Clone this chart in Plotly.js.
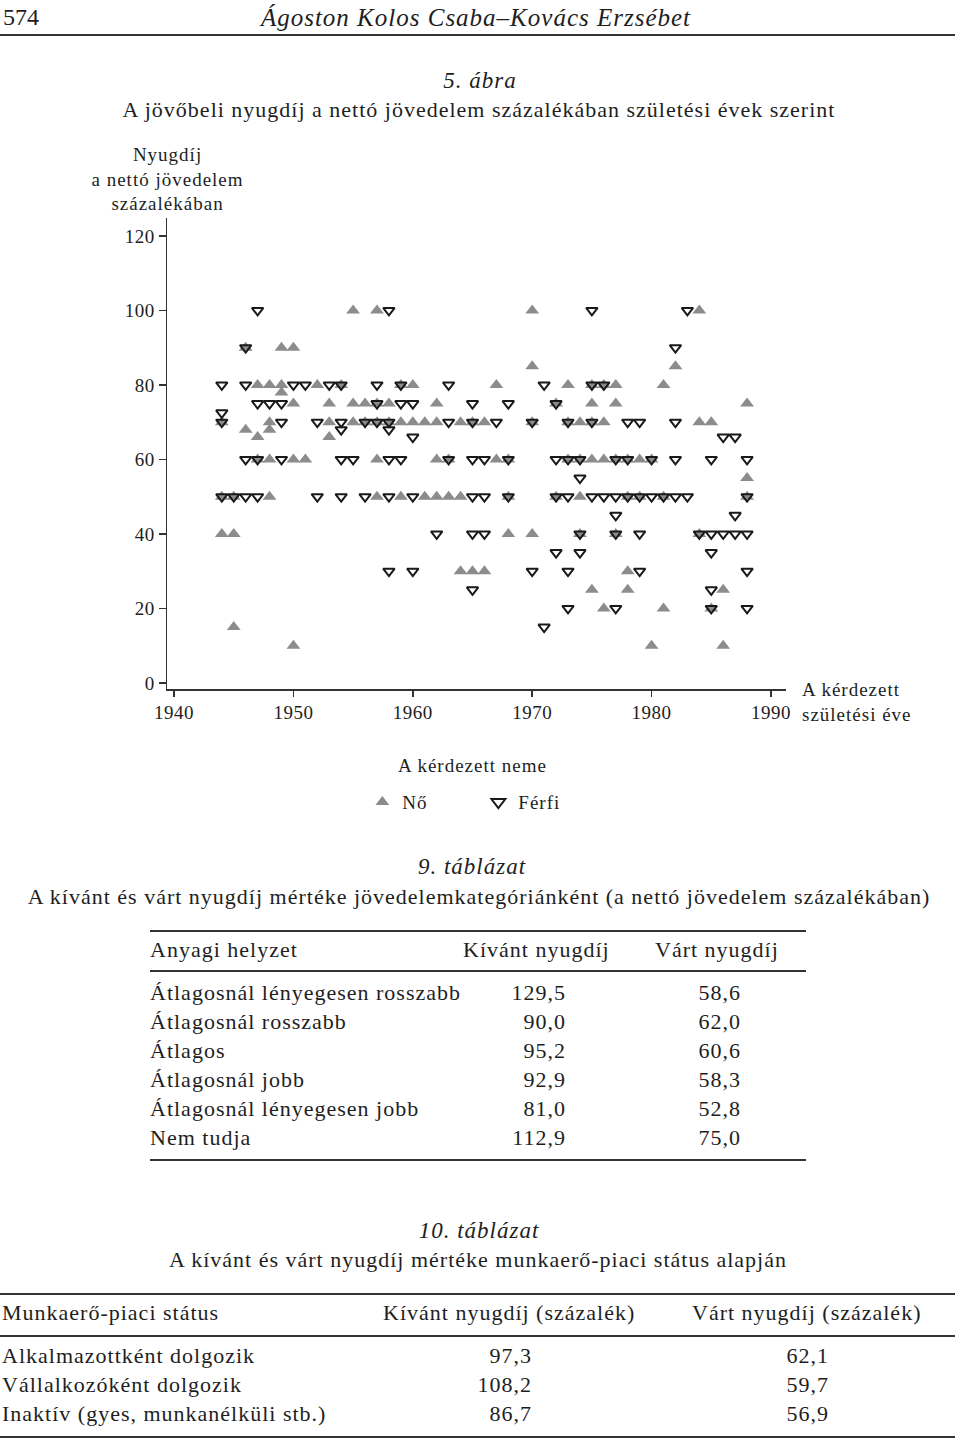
<!DOCTYPE html>
<html>
<head>
<meta charset="utf-8">
<script src="https://cdn.plot.ly/plotly-3.0.1.min.js"></script>
<style>
  body { margin: 0; background: #fff; }
  #page { position: relative; width: 960px; height: 1441px; overflow: hidden;
          font-family: "Liberation Serif", "DejaVu Serif", serif; color: #1e1e1e; }
  #chart { position: absolute; left: 0; top: 0; width: 960px; height: 860px; }
  .t { position: absolute; white-space: nowrap; line-height: 1; letter-spacing: 1px; }
  .rule { position: absolute; height: 2px; background: #333; }
  #chart .annotation-text, #chart .legendtext { letter-spacing: 1px; }
  #chart .xtick text, #chart .ytick text { letter-spacing: 0.5px; }
</style>
</head>
<body>
<div id="page">
  <div id="chart"></div>
</div>
<script>
// --- 5. ábra: scatter ---
// Nő (filled triangles)
var noYear = [
  1955, 1957, 1970, 1984,
  1946, 1949, 1950,
  1970, 1982,
  1947, 1948, 1949, 1952, 1954, 1959, 1960, 1967, 1973, 1975, 1976, 1977, 1981,
  1949,
  1950, 1953, 1955, 1956, 1957, 1958, 1962, 1972, 1975, 1977, 1988,
  1944, 1948, 1953, 1955, 1956, 1957, 1958, 1959, 1960, 1961, 1962, 1964, 1965, 1966, 1970, 1973, 1974, 1975, 1976, 1984, 1985,
  1946, 1948,
  1947, 1953,
  1947, 1948, 1950, 1951, 1957, 1962, 1963, 1967, 1968, 1973, 1974, 1975, 1976, 1977, 1978, 1979, 1980,
  1988,
  1944, 1945, 1948, 1957, 1959, 1961, 1962, 1963, 1964, 1968, 1972, 1974, 1978, 1979, 1981, 1988,
  1944, 1945, 1968, 1970, 1974, 1977, 1984,
  1964, 1965, 1966, 1978,
  1975, 1978, 1986,
  1976, 1981, 1985,
  1945,
  1950, 1980, 1986
];
var noPct = [
  100, 100, 100, 100,
  90, 90, 90,
  85, 85,
  80, 80, 80, 80, 80, 80, 80, 80, 80, 80, 80, 80, 80,
  78,
  75, 75, 75, 75, 75, 75, 75, 75, 75, 75, 75,
  70, 70, 70, 70, 70, 70, 70, 70, 70, 70, 70, 70, 70, 70, 70, 70, 70, 70, 70, 70, 70,
  68, 68,
  66, 66,
  60, 60, 60, 60, 60, 60, 60, 60, 60, 60, 60, 60, 60, 60, 60, 60, 60,
  55,
  50, 50, 50, 50, 50, 50, 50, 50, 50, 50, 50, 50, 50, 50, 50, 50,
  40, 40, 40, 40, 40, 40, 40,
  30, 30, 30, 30,
  25, 25, 25,
  20, 20, 20,
  15,
  10, 10, 10
];
// Férfi (open down triangles)
var ferfiYear = [
  1947, 1958, 1975, 1983,
  1946, 1982,
  1944, 1946, 1950, 1951, 1953, 1954, 1957, 1959, 1963, 1971, 1975, 1976,
  1947, 1948, 1949, 1957, 1959, 1960, 1965, 1968, 1972,
  1944,
  1944, 1949, 1952, 1954, 1956, 1957, 1958, 1963, 1965, 1967, 1970, 1973, 1975, 1978, 1979, 1982,
  1954, 1958,
  1960, 1986, 1987,
  1946, 1947, 1949, 1954, 1955, 1958, 1959, 1963, 1965, 1966, 1968, 1972, 1973, 1974, 1977, 1978, 1980, 1982, 1985, 1988,
  1974,
  1944, 1945, 1946, 1947, 1952, 1954, 1956, 1958, 1960, 1965, 1966, 1968, 1972, 1973, 1975, 1976, 1977, 1978, 1979, 1980, 1981, 1982, 1983, 1988,
  1977, 1987,
  1962, 1965, 1966, 1974, 1977, 1979, 1984, 1985, 1986, 1987, 1988,
  1972, 1974, 1985,
  1958, 1960, 1970, 1973, 1979, 1988,
  1965, 1985,
  1973, 1977, 1985, 1988,
  1971
];
var ferfiPct = [
  100, 100, 100, 100,
  90, 90,
  80, 80, 80, 80, 80, 80, 80, 80, 80, 80, 80, 80,
  75, 75, 75, 75, 75, 75, 75, 75, 75,
  72.5,
  70, 70, 70, 70, 70, 70, 70, 70, 70, 70, 70, 70, 70, 70, 70, 70,
  68, 68,
  66, 66, 66,
  60, 60, 60, 60, 60, 60, 60, 60, 60, 60, 60, 60, 60, 60, 60, 60, 60, 60, 60, 60,
  55,
  50, 50, 50, 50, 50, 50, 50, 50, 50, 50, 50, 50, 50, 50, 50, 50, 50, 50, 50, 50, 50, 50, 50, 50,
  45, 45,
  40, 40, 40, 40, 40, 40, 40, 40, 40, 40, 40,
  35, 35, 35,
  30, 30, 30, 30, 30, 30,
  25, 25,
  20, 20, 20, 20,
  15
];
var xTicks = [1940, 1950, 1960, 1970, 1980, 1990];
var yTicks = [0, 20, 40, 60, 80, 100, 120];

// --- 9. táblázat ---
var t9Head = ["Anyagi helyzet", "Kívánt nyugdíj", "Várt nyugdíj"];
var t9Label = [
  "Átlagosnál lényegesen rosszabb",
  "Átlagosnál rosszabb",
  "Átlagos",
  "Átlagosnál jobb",
  "Átlagosnál lényegesen jobb",
  "Nem tudja"
];
var t9Kivant = ["129,5", "90,0", "95,2", "92,9", "81,0", "112,9"];
var t9Vart = ["58,6", "62,0", "60,6", "58,3", "52,8", "75,0"];

// --- 10. táblázat ---
var t10Head = ["Munkaerő-piaci státus", "Kívánt nyugdíj (százalék)", "Várt nyugdíj (százalék)"];
var t10Label = [
  "Alkalmazottként dolgozik",
  "Vállalkozóként dolgozik",
  "Inaktív (gyes, munkanélküli stb.)"
];
var t10Kivant = ["97,3", "108,2", "86,7"];
var t10Vart = ["62,1", "59,7", "56,9"];

var FONT = "Liberation Serif, DejaVu Serif, serif";
var page = document.getElementById("page");

// place a line of text, y = vertical centre
function put(text, x, y, size, align, italic) {
  var d = document.createElement("div");
  d.className = "t";
  d.textContent = text;
  d.style.fontSize = size + "px";
  d.style.top = (y - size / 2) + "px";
  if (italic) d.style.fontStyle = "italic";
  if (align === "center") {
    d.style.left = (x - 480) + "px";
    d.style.width = "960px";
    d.style.textAlign = "center";
  } else if (align === "right") {
    d.style.right = (960 - x - 1) + "px";
  } else {
    d.style.left = x + "px";
  }
  page.appendChild(d);
  return d;
}

function rule(x0, x1, y) {
  var d = document.createElement("div");
  d.className = "rule";
  d.style.left = x0 + "px";
  d.style.width = (x1 - x0) + "px";
  d.style.top = (y - 1) + "px";
  page.appendChild(d);
}

// page header
put("574", 3, 17, 24).style.letterSpacing = "0px";
put("Ágoston Kolos Csaba–Kovács Erzsébet", 476, 17, 25, "center", true);
rule(0, 955, 35);

// figure titles
put("5. ábra", 480, 80, 23, "center", true);
put("A jövőbeli nyugdíj a nettó jövedelem százalékában születési évek szerint", 479, 110, 22, "center");

var trace_no = {
  x: noYear,
  y: noPct,
  type: "scatter",
  mode: "markers",
  name: "Nő",
  marker: { symbol: "triangle-up", size: 12, color: "rgb(140,140,140)" },
  hoverinfo: "none",
};

var trace_ferfi = {
  x: ferfiYear,
  y: ferfiPct,
  type: "scatter",
  mode: "markers",
  name: "Férfi",
  marker: {
    symbol: "triangle-down-open",
    size: 10,
    color: "rgb(25,25,25)",
    line: { width: 2, color: "rgb(25,25,25)" },
  },
  hoverinfo: "none",
};

var layout = {
  width: 960,
  height: 860,
  margin: { l: 167, r: 174, t: 218, b: 171 },
  paper_bgcolor: "rgba(0,0,0,0)",
  plot_bgcolor: "rgba(0,0,0,0)",
  font: { family: FONT, size: 19, color: "#1e1e1e" },
  showlegend: true,
  legend: {
    orientation: "h",
    x: 0.503,
    xanchor: "center",
    y: -0.2,
    yanchor: "top",
    font: { size: 19 },
    entrywidth: 71,
    itemsizing: "constant",
  },
  xaxis: {
    range: [1939.41, 1991.26],
    tickvals: xTicks,
    ticks: "outside",
    ticklen: 6,
    tickwidth: 1.5,
    tickcolor: "#333",
    showline: true,
    linecolor: "#333",
    linewidth: 1.5,
    showgrid: false,
    zeroline: false,
    tickfont: { size: 19 },
  },
  yaxis: {
    range: [-1.61, 124.8],
    tickvals: yTicks,
    ticks: "outside",
    ticklen: 7,
    tickwidth: 1.5,
    tickcolor: "#333",
    showline: true,
    linecolor: "#333",
    linewidth: 1.5,
    showgrid: false,
    zeroline: false,
    tickfont: { size: 19 },
  },
  annotations: [
    {
      text: "Nyugdíj<br>a nettó jövedelem<br>százalékában",
      xref: "paper", yref: "paper",
      x: 0, y: 1.083,
      xanchor: "center", yanchor: "middle",
      showarrow: false,
      font: { size: 19 },
    },
    {
      text: "A kérdezett<br>születési éve",
      xref: "paper", yref: "paper",
      x: 1.022, y: -0.028,
      xanchor: "left", yanchor: "middle",
      align: "left",
      showarrow: false,
      font: { size: 19 },
    },
    {
      text: "A kérdezett neme",
      xref: "paper", yref: "paper",
      x: 0.493, y: -0.162,
      xanchor: "center", yanchor: "middle",
      showarrow: false,
      font: { size: 19 },
    },
  ],
};

Plotly.newPlot("chart", [trace_no, trace_ferfi], layout, { displayModeBar: false, staticPlot: true });

// 9. táblázat
put("9. táblázat", 472, 866, 23, "center", true);
put("A kívánt és várt nyugdíj mértéke jövedelemkategóriánként (a nettó jövedelem százalékában)", 479, 897, 22, "center");
rule(150, 806, 931);
put(t9Head[0], 150, 950, 22);
put(t9Head[1], 463, 950, 22);
put(t9Head[2], 655, 950, 22);
rule(150, 806, 971);
for (var i = 0; i < t9Label.length; i++) {
  var y = 993 + 29 * i;
  put(t9Label[i], 150, y, 22);
  put(t9Kivant[i], 565, y, 22, "right");
  put(t9Vart[i], 740, y, 22, "right");
}
rule(150, 806, 1160);

// 10. táblázat
put("10. táblázat", 479, 1230, 23, "center", true);
put("A kívánt és várt nyugdíj mértéke munkaerő-piaci státus alapján", 478, 1260, 22, "center");
rule(0, 955, 1294);
put(t10Head[0], 2, 1313, 22);
put(t10Head[1], 383, 1313, 22);
put(t10Head[2], 692, 1313, 22);
rule(0, 955, 1336);
for (var j = 0; j < t10Label.length; j++) {
  var yy = 1356 + 29 * j;
  put(t10Label[j], 2, yy, 22);
  put(t10Kivant[j], 531, yy, 22, "right");
  put(t10Vart[j], 828, yy, 22, "right");
}
rule(0, 955, 1437);
</script>
</body>
</html>
